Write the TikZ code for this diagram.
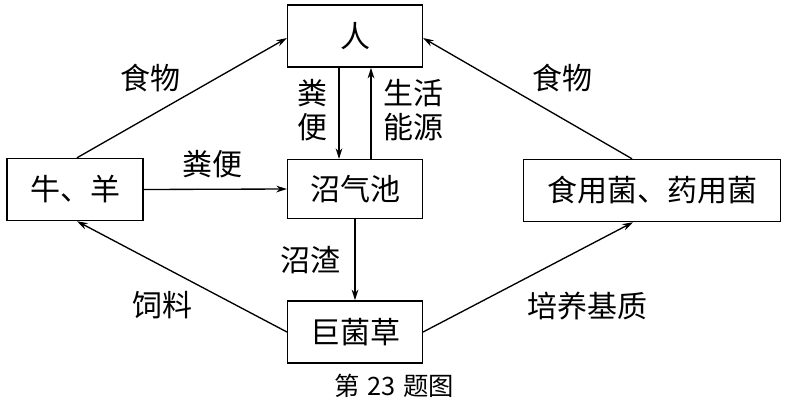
\documentclass[tikz,border=0pt]{standalone}
\usepackage{fontspec}
\newfontfamily\cjk{Noto Sans CJK SC}
\usetikzlibrary{arrows.meta,calc}
\begin{document}
\begin{tikzpicture}[x=0.75pt,y=-0.75pt,
  box/.style={draw,line width=1.1pt,inner sep=0pt,minimum height=46.5pt,font=\cjk\fontsize{22.5}{24}\selectfont},
  lbl/.style={inner sep=0pt,font=\cjk\fontsize{22.5}{25.5}\selectfont,align=center},
  arr/.style={line width=1pt,-{Stealth[length=8pt,width=5pt]}}]
\useasboundingbox (0,0) rectangle (787,404);
\node[box,minimum width=101pt] (ren) at (355,36) {人};
\node[box,minimum width=101pt,minimum height=44pt] (zqc) at (355,189) {沼气池};
\node[box,minimum width=102pt] (ny) at (75,189.5) {牛、羊};
\node[box,minimum width=193pt] (sy) at (652,190.5) {食用菌、药用菌};
\node[box,minimum width=101pt] (jjc) at (355,332) {巨菌草};
\node[inner sep=0pt,font=\cjk\fontsize{19}{21}\selectfont] (cap) at (394,386) {第\hspace{0.3em}23\hspace{0.3em}题图};
% arrows
\coordinate (rdn) at ($(ren.south)+(-16,0)$);
\coordinate (zdn) at ($(zqc.north)+(-16,0)$);
\coordinate (rup) at ($(ren.south)+(16,0)$);
\coordinate (zup) at ($(zqc.north)+(16,0)$);
\draw[arr] (rdn) -- (zdn);
\draw[arr] (zup) -- (rup);
\draw[arr] (ny.east) -- (zqc.west);
\draw[arr] (zqc.south) -- (jjc.north);
\coordinate (nyt) at ($(ny.north)+(2,0)$);
\coordinate (nyb) at ($(ny.south)+(2,0)$);
\coordinate (syt) at ($(sy.north)+(-20,0)$);
\coordinate (syb) at ($(sy.south)+(-19,0)$);
\coordinate (renl) at ($(ren.west)+(0,2)$);
\coordinate (renr) at ($(ren.east)+(0,2)$);
\draw[arr] (nyt) -- (renl);
\draw[arr] (syt) -- (renr);
\draw[arr] (jjc.west) -- (nyb);
\draw[arr] (jjc.east) -- (syb);
% labels
\node[lbl] (l1) at (150,78) {食物};
\node[lbl] (l2) at (562,78) {食物};
\node[lbl] (l3) at (312,110) {粪\\便};
\node[lbl] (l4) at (413,110) {生活\\能源};
\node[lbl] (l5) at (212,164) {粪便};
\node[lbl] (l6) at (310,260) {沼渣};
\node[lbl] (l7) at (162,305) {饲料};
\node[lbl] (l8) at (587,306) {培养基质};
\end{tikzpicture}
\end{document}
